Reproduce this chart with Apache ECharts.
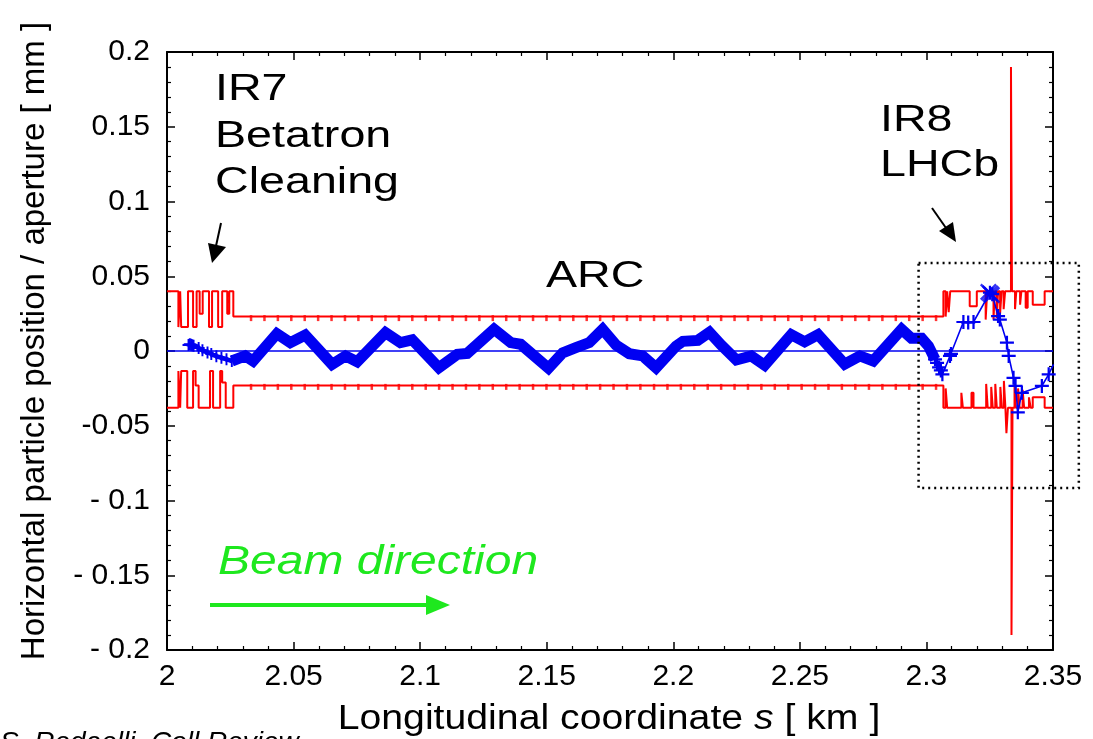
<!DOCTYPE html>
<html><head><meta charset="utf-8">
<script src="https://cdn.jsdelivr.net/npm/echarts@6/dist/echarts.min.js"></script>
<style>html,body{margin:0;padding:0;background:#fff;overflow:hidden}#c{width:1093px;height:739px}</style>
</head><body><div id="c"></div>
<script>
// ---------------- DATA ----------------
const xTickLabels = ['2', '2.05', '2.1', '2.15', '2.2', '2.25', '2.3', '2.35'];
const yTickLabels = ['- 0.2', '- 0.15', '- 0.1', '-0.05', '0', '0.05', '0.1', '0.15', '0.2'];

// aperture (step: value held until next s)
const apertureUpper = [
  [2.0, 0.04], [2.0045, 0.016], [2.0052, 0.04], [2.0056, 0.016], [2.0083, 0.04], [2.0103, 0.016],
  [2.0117, 0.04], [2.0129, 0.025], [2.0141, 0.04], [2.0166, 0.016], [2.0178, 0.04], [2.0202, 0.016],
  [2.0218, 0.04], [2.0238, 0.025], [2.0246, 0.04], [2.0262, 0.023],
  [2.3067, 0.04], [2.3076, 0.023], [2.3082, 0.04], [2.3088, 0.026], [2.3094, 0.04], [2.3171, 0.03],
  [2.3199, 0.04], [2.3234, 0.021], [2.3240, 0.04], [2.3265, 0.021], [2.3270, 0.04], [2.3278, 0.022],
  [2.3283, 0.04], [2.3291, 0.025], [2.3297, 0.04], [2.3305, 0.028], [2.3311, 0.04], [2.3334, 0.19],
  [2.3338, 0.04], [2.3350, 0.028], [2.3355, 0.04], [2.3370, 0.031], [2.3375, 0.04], [2.3392, 0.029],
  [2.3400, 0.04], [2.3420, 0.031], [2.3467, 0.04], [2.35, 0.04]
];
const apertureLower = [
  [2.0, -0.038], [2.0045, -0.0134], [2.0052, -0.038], [2.0056, -0.0134], [2.0080, -0.038], [2.0103, -0.0134],
  [2.0113, -0.023], [2.0125, -0.038], [2.0170, -0.0134], [2.0182, -0.038], [2.0210, -0.0134], [2.0218, -0.021],
  [2.0232, -0.038], [2.0262, -0.023],
  [2.3067, -0.038], [2.3076, -0.025], [2.3082, -0.038], [2.3138, -0.028], [2.3144, -0.038], [2.3178, -0.028],
  [2.3186, -0.038], [2.3236, -0.022], [2.3242, -0.038], [2.3256, -0.024], [2.3262, -0.038], [2.3272, -0.022],
  [2.3278, -0.038], [2.3292, -0.024], [2.3298, -0.038], [2.3306, -0.02], [2.3312, -0.038], [2.3316, -0.055],
  [2.3322, -0.038], [2.3336, -0.19], [2.3340, -0.038], [2.3348, -0.022], [2.3353, -0.038], [2.3362, -0.025],
  [2.3368, -0.038], [2.3380, -0.026], [2.3386, -0.038], [2.3405, -0.031], [2.3412, -0.038], [2.3420, -0.031],
  [2.3467, -0.038], [2.35, -0.038]
];
// arc element positions (aperture markers) and arc aperture half-width
const arcElementS = [
  2.0332, 2.0385, 2.0438, 2.0491, 2.0544, 2.0597, 2.0650, 2.0703, 2.0756, 2.0809, 2.0863, 2.0916, 2.0969,
  2.1022, 2.1075, 2.1128, 2.1181, 2.1234, 2.1287, 2.1340, 2.1393, 2.1446, 2.1499, 2.1552, 2.1605, 2.1658,
  2.1711, 2.1764, 2.1817, 2.1870, 2.1924, 2.1977, 2.2030, 2.2083, 2.2136, 2.2189, 2.2242, 2.2295, 2.2348,
  2.2401, 2.2454, 2.2507, 2.2560, 2.2613, 2.2666, 2.2719, 2.2773, 2.2826, 2.2879, 2.2932, 2.2985, 2.3038
];
const arcAperture = 0.023;

// particle orbit
const orbitIR7 = [
  [2.0085, 0.004], [2.0090, 0.0045], [2.0095, 0.0042], [2.0100, 0.0038], [2.0105, 0.0035], [2.0125, 0.002],
  [2.0140, 0.0005], [2.0160, -0.001], [2.0175, -0.002], [2.0195, -0.0035], [2.0215, -0.0045], [2.0235, -0.0055],
  [2.0256, -0.0067]
];
const orbitArc = [
  [2.0256, -0.0067], [2.0309, -0.0033], [2.0340, -0.0067], [2.0434, 0.0116], [2.0487, 0.0056], [2.0546, 0.0107],
  [2.0652, -0.0089], [2.0705, -0.0033], [2.0751, -0.0072], [2.0863, 0.0123], [2.0922, 0.0056], [2.0969, 0.0075],
  [2.1074, -0.0112], [2.1147, -0.0022], [2.1186, -0.0016], [2.1292, 0.0145], [2.1358, 0.0056], [2.1397, 0.0045],
  [2.1507, -0.0115], [2.1563, -0.0012], [2.1615, 0.0022], [2.1668, 0.0056], [2.1721, 0.0145], [2.1774, 0.0040],
  [2.1826, -0.0018], [2.1879, -0.0033], [2.1932, -0.0112], [2.2011, 0.0033], [2.2038, 0.0065], [2.2097, 0.0071],
  [2.2143, 0.0125], [2.2189, 0.0040], [2.2249, -0.0060], [2.2308, -0.0033], [2.2361, -0.0095], [2.2466, 0.0110],
  [2.2519, 0.0062], [2.2572, 0.0110], [2.2677, -0.0088], [2.2737, -0.0033], [2.2790, -0.0067], [2.2902, 0.0145],
  [2.2941, 0.0085], [2.2981, 0.0085], [2.3008, 0.0033], [2.3034, -0.0056]
];
const orbitIR8 = [
  [2.3034, -0.0056], [2.3042, -0.008], [2.3050, -0.011], [2.3057, -0.013], [2.3063, -0.0156], [2.3093, -0.0033],
  [2.3097, -0.002], [2.3146, 0.0194], [2.3165, 0.019], [2.3186, 0.0194], [2.3251, 0.039], [2.3260, 0.038],
  [2.3283, 0.0234], [2.3290, 0.021], [2.3318, 0.0056], [2.3325, -0.0033], [2.3344, -0.0179], [2.3352, -0.0234],
  [2.3361, -0.041], [2.3377, -0.028], [2.3456, -0.0234], [2.3483, -0.0156], [2.3502, -0.0089]
];
const orbitPeakCrosses = [[2.3245, 0.0395], [2.3252, 0.0385], [2.3258, 0.0375]];
const referenceOrbit = [[2.0, 0], [2.35, 0]];
// zoom box around IR8 (data coordinates: two opposite corners)
const zoomBoxCorners = [[2.2969, 0.0589], [2.3602, -0.0917]];

// ---------------- CHART ----------------
const FONT = '"Liberation Sans", Arial, Helvetica, sans-serif';
const RED = '#ff0000', BLUE = '#0000f2', GREEN = '#1ee81e';
const PLUS = 'path://M4.2,0h1.6v4.2h4.2v1.6h-4.2v4.2h-1.6v-4.2h-4.2v-1.6h4.2z';
const CROSS = 'path://M0,1L1,0L5,4L9,0L10,1L6,5L10,9L9,10L5,6L1,10L0,9L4,5z';

const chart = echarts.init(document.getElementById('c'), null, {renderer: 'canvas'});

function xAx(pos, labels) {
  return {
    type: 'value', position: pos, min: 2, max: 2.35, interval: 0.05,
    axisLine: {show: true, onZero: false, lineStyle: {color: '#000', width: 2}},
    axisTick: {show: true, inside: true, length: 8, lineStyle: {color: '#000', width: 1.5}},
    minorTick: {show: true, splitNumber: 5, length: 4, lineStyle: {color: '#000', width: 1.2}},
    splitLine: {show: false},
    axisLabel: labels ? {
      show: true, fontSize: 30, color: '#000', fontFamily: FONT, margin: 12,
      formatter: v => xTickLabels[Math.round((v - 2) / 0.05)]
    } : {show: false}
  };
}
function yAx(pos, labels) {
  return {
    type: 'value', position: pos, min: -0.2, max: 0.2, interval: 0.05,
    axisLine: {show: true, onZero: false, lineStyle: {color: '#000', width: 2}},
    axisTick: {show: true, inside: true, length: 8, lineStyle: {color: '#000', width: 1.5}},
    minorTick: {show: true, splitNumber: 5, length: 4, lineStyle: {color: '#000', width: 1.2}},
    splitLine: {show: false},
    axisLabel: labels ? {
      show: true, fontSize: 30, color: '#000', fontFamily: FONT, margin: 17,
      formatter: v => yTickLabels[Math.round((v + 0.2) / 0.05)]
    } : {show: false}
  };
}

const option = {
  animation: false,
  backgroundColor: '#fff',
  grid: {left: 167, right: 40, top: 52, bottom: 89, containLabel: false},
  xAxis: [xAx('bottom', true), xAx('top', false)],
  yAxis: [yAx('left', true), yAx('right', false)],
  series: [
    {type: 'line', data: referenceOrbit, showSymbol: false, lineStyle: {color: BLUE, width: 1.5}, z: 2},
    {type: 'line', data: apertureUpper, step: 'end', showSymbol: false, lineStyle: {color: RED, width: 2}, z: 3},
    {type: 'line', data: apertureLower, step: 'end', showSymbol: false, lineStyle: {color: RED, width: 2}, z: 3},
    {type: 'scatter', data: arcElementS.map(s => [s, arcAperture]), symbol: 'rect', symbolSize: [2.5, 6], symbolOffset: [0, 1.5], itemStyle: {color: RED}, z: 3},
    {type: 'scatter', data: arcElementS.map(s => [s, -arcAperture]), symbol: 'rect', symbolSize: [2.5, 6], symbolOffset: [0, 1.5], itemStyle: {color: RED}, z: 3},
    {type: 'line', data: orbitIR7, symbol: PLUS, symbolSize: 12, showSymbol: true, itemStyle: {color: BLUE}, lineStyle: {color: BLUE, width: 4.5}, z: 5},
    {type: 'line', data: orbitArc, showSymbol: false, lineStyle: {color: BLUE, width: 11, join: 'miter', cap: 'butt'}, z: 5},
    {type: 'line', data: orbitIR8, symbol: PLUS, symbolSize: 14, showSymbol: true, itemStyle: {color: BLUE}, lineStyle: {color: BLUE, width: 1.6}, z: 5},
    {type: 'scatter', data: orbitPeakCrosses, symbol: CROSS, symbolSize: 17, itemStyle: {color: BLUE}, z: 6}
  ],
  graphic: [
    {type: 'text', x: 35, y: 341, rotation: Math.PI / 2, style: {text: 'Horizontal particle position / aperture [ mm ]', font: '33px ' + FONT, fill: '#000', align: 'center', verticalAlign: 'middle'}},
    {type: 'text', x: 609, y: 719, scaleX: 1.12, style: {text: 'Longitudinal coordinate {i|s} [ km ]', font: '35px ' + FONT, fill: '#000', align: 'center', verticalAlign: 'middle', rich: {i: {font: 'italic 35px ' + FONT}}}},
    {type: 'text', x: 0, y: 729, style: {text: 'S. Redaelli, Coll Review', font: 'italic 28px ' + FONT, fill: '#000', align: 'left', verticalAlign: 'top'}},
    {type: 'text', x: 215, y: 90, scaleX: 1.26, style: {text: 'IR7', font: '37px ' + FONT, fill: '#000', align: 'left', verticalAlign: 'middle'}},
    {type: 'text', x: 215, y: 137, scaleX: 1.26, style: {text: 'Betatron', font: '37px ' + FONT, fill: '#000', align: 'left', verticalAlign: 'middle'}},
    {type: 'text', x: 215, y: 183, scaleX: 1.26, style: {text: 'Cleaning', font: '37px ' + FONT, fill: '#000', align: 'left', verticalAlign: 'middle'}},
    {type: 'text', x: 880, y: 121, scaleX: 1.26, style: {text: 'IR8', font: '37px ' + FONT, fill: '#000', align: 'left', verticalAlign: 'middle'}},
    {type: 'text', x: 880, y: 166, scaleX: 1.26, style: {text: 'LHCb', font: '37px ' + FONT, fill: '#000', align: 'left', verticalAlign: 'middle'}},
    {type: 'text', x: 546, y: 277, scaleX: 1.26, style: {text: 'ARC', font: '37px ' + FONT, fill: '#000', align: 'left', verticalAlign: 'middle'}},
    {type: 'text', x: 218, y: 563, scaleX: 1.2, style: {text: 'Beam direction', font: 'italic 40px ' + FONT, fill: GREEN, align: 'left', verticalAlign: 'middle'}},
    // arrows
    {type: 'line', shape: {x1: 221, y1: 223, x2: 216, y2: 246}, style: {stroke: '#000', lineWidth: 2}},
    {type: 'polygon', shape: {points: [[208, 243], [226, 247], [212, 263]]}, style: {fill: '#000'}},
    {type: 'line', shape: {x1: 932, y1: 208, x2: 946, y2: 228}, style: {stroke: '#000', lineWidth: 2}},
    {type: 'polygon', shape: {points: [[939, 231], [953, 222], [956, 242]]}, style: {fill: '#000'}},
    {type: 'line', shape: {x1: 210, y1: 605, x2: 430, y2: 605}, style: {stroke: GREEN, lineWidth: 4}},
    {type: 'polygon', shape: {points: [[426, 595], [426, 615], [450, 605]]}, style: {fill: GREEN}}
  ]
};
chart.setOption(option);

// dotted zoom box: corners placed through the chart's own coordinate system
const p1 = chart.convertToPixel({gridIndex: 0}, zoomBoxCorners[0]);
const p2 = chart.convertToPixel({gridIndex: 0}, zoomBoxCorners[1]);
chart.setOption({
  graphic: option.graphic.concat([{
    type: 'rect', z: 10,
    shape: {x: p1[0], y: p1[1], width: p2[0] - p1[0], height: p2[1] - p1[1]},
    style: {fill: 'none', stroke: '#000', lineWidth: 2.5, lineDash: [2, 4]}
  }])
});
</script>
</body></html>
